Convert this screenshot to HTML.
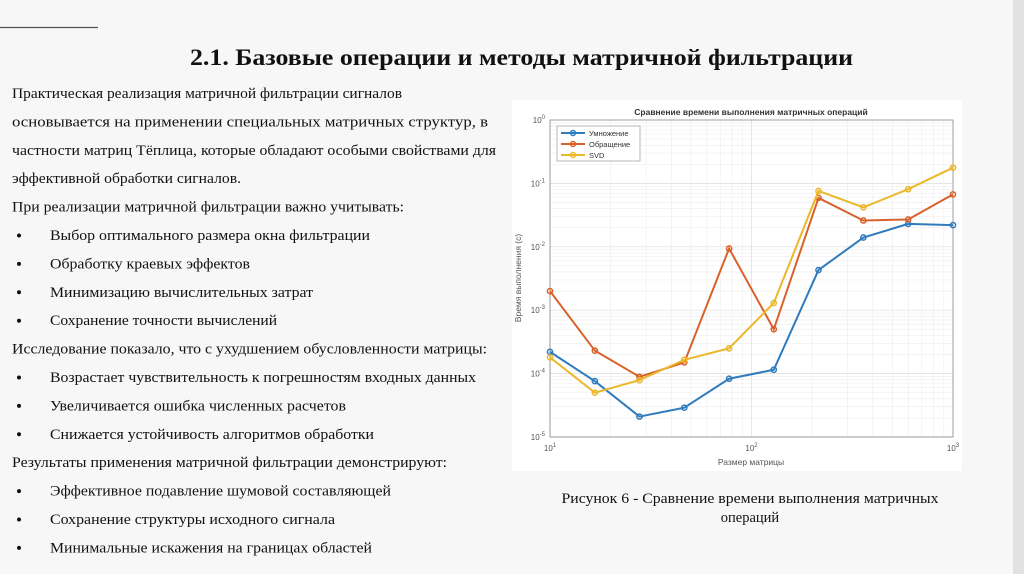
<!DOCTYPE html>
<html><head><meta charset="utf-8"><style>
html,body{margin:0;padding:0;background:#f7f7f7;}
svg{display:block}
.b{font-family:"Liberation Serif","DejaVu Serif",serif;font-size:14.5px;fill:#111}
.c{font-family:"Liberation Sans","DejaVu Sans",sans-serif}
</style></head><body>
<svg id="s" width="1024" height="574" viewBox="0 0 1024 574" xmlns="http://www.w3.org/2000/svg">
<rect x="0" y="0" width="1024" height="574" fill="#f7f7f7"/>
<rect x="1013" y="0" width="11" height="574" fill="#e2e2e2"/>
<line x1="0" y1="27.5" x2="98" y2="27.5" stroke="#555" stroke-width="1.2"/>
<text x="190" y="65" textLength="663" lengthAdjust="spacingAndGlyphs" style="font-family:'Liberation Serif',serif;font-weight:bold;font-size:23px" fill="#111">2.1. Базовые операции и методы матричной фильтрации</text>
<g id="body"></g>
<rect x="512" y="100" width="450" height="371" fill="#fff"/>
<g id="chart"></g>
<text x="750" y="503" text-anchor="middle" class="b" textLength="377" lengthAdjust="spacingAndGlyphs">Рисунок 6 - Сравнение времени выполнения матричных</text>
<text x="750" y="522" text-anchor="middle" class="b">операций</text>
</svg>
<script>
const NS="http://www.w3.org/2000/svg";
function mk(tag,attrs,parent,txt){const e=document.createElementNS(NS,tag);for(const k in attrs)e.setAttribute(k,attrs[k]);if(txt!=null)e.textContent=txt;parent.appendChild(e);return e;}
const lines=[
["Практическая реализация матричной фильтрации сигналов",0,402],
["основывается на применении специальных матричных структур, в",0,488],
["частности матриц Тёплица, которые обладают особыми свойствами для",0,496],
["эффективной обработки сигналов.",0,241],
["При реализации матричной фильтрации важно учитывать:",0,404],
["Выбор оптимального размера окна фильтрации",1,370],
["Обработку краевых эффектов",1,250],
["Минимизацию вычислительных затрат",1,313],
["Сохранение точности вычислений",1,277],
["Исследование показало, что с ухудшением обусловленности матрицы:",0,487],
["Возрастает чувствительность к погрешностям входных данных",1,476],
["Увеличивается ошибка численных расчетов",1,346],
["Снижается устойчивость алгоритмов обработки",1,374],
["Результаты применения матричной фильтрации демонстрируют:",0,447],
["Эффективное подавление шумовой составляющей",1,391],
["Сохранение структуры исходного сигнала",1,335],
["Минимальные искажения на границах областей",1,372]];
const body=document.getElementById('body');
lines.forEach((l,i)=>{
 const y=98+i*28.4, x=l[1]?50:12;
 if(l[1]){const d=mk('circle',{cx:19,cy:y-4.5,r:2,fill:'#111'},body);
 
 }
 const t=mk('text',{x:x,y:y,class:'b',textLength:l[2]-x,lengthAdjust:'spacingAndGlyphs'},body,l[0]);
 
 
});
</script>
<script>
// chart data
const sizes=[10,16.7,27.8,46.4,77.4,129,215,359,599,1000];
const mult=[2.2e-4,7.6e-5,2.1e-5,2.9e-5,8.3e-5,1.15e-4,4.3e-3,1.4e-2,2.3e-2,2.2e-2];
const inv=[2.0e-3,2.3e-4,8.9e-5,1.5e-4,9.4e-3,5.0e-4,5.9e-2,2.6e-2,2.7e-2,6.7e-2];
const svd=[1.8e-4,5.0e-5,7.9e-5,1.65e-4,2.5e-4,1.3e-3,7.6e-2,4.2e-2,8.1e-2,0.177];
const seriesNames=["Умножение","Обращение","SVD"];
const yTickExp=[0,-1,-2,-3,-4,-5];
const xTickExp=[1,2,3];
const X0=550,X1=953,Y0=120,Y1=437;
function xs(v){return X0+(Math.log10(v)-1)/2*(X1-X0);}
function ys(v){return Y0+(0-Math.log10(v))/5*(Y1-Y0);}
const g=document.getElementById('chart');
const grid=mk('g',{},g);


for(let e=-5;e<0;e++)for(let m=1;m<10;m++){const y=ys(m*Math.pow(10,e));mk('line',{x1:X0,x2:X1,y1:y,y2:y,stroke:m==1?'#dcdcdc':'#efefef','stroke-width':0.7},grid);}
for(let e=1;e<3;e++)for(let m=1;m<10;m++){const x=xs(m*Math.pow(10,e));mk('line',{x1:x,x2:x,y1:Y0,y2:Y1,stroke:m==1?'#dcdcdc':'#efefef','stroke-width':0.7},grid);}
const ax=mk('rect',{x:X0,y:Y0,width:X1-X0,height:Y1-Y0,fill:'none',stroke:'#888','stroke-width':0.8},g);


yTickExp.forEach(e=>{const t=mk('text',{x:X0-5,y:ys(Math.pow(10,e))+3,'text-anchor':'end',class:'c','font-size':8,fill:'#555'},g);
t.innerHTML='10<tspan dy="-4" font-size="6">'+e+'</tspan>';

});
xTickExp.forEach(e=>{const t=mk('text',{x:xs(Math.pow(10,e)),y:Y1+14,'text-anchor':'middle',class:'c','font-size':8,fill:'#555'},g);
t.innerHTML='10<tspan dy="-4" font-size="6">'+e+'</tspan>';

});
const tt=mk('text',{x:751,y:115,'text-anchor':'middle',class:'c','font-size':8.5,'font-weight':'bold',fill:'#333'},g,'Сравнение времени выполнения матричных операций');


const xl=mk('text',{x:751,y:465,'text-anchor':'middle',class:'c','font-size':8.5,fill:'#555'},g,'Размер матрицы');


const yl=mk('text',{x:0,y:0,'text-anchor':'middle',class:'c','font-size':8.5,fill:'#555',transform:'translate(521,278) rotate(-90)'},g,'Время выполнения (с)');


const colors=['#2f7bbd','#d9622b','#eab82a'];
[mult,inv,svd].forEach((d,i)=>{
 const p=mk('polyline',{points:d.map((v,j)=>xs(sizes[j])+','+ys(v)).join(' '),fill:'none',stroke:colors[i],'stroke-width':2},g);
 
 
 d.forEach((v,j)=>{const c=mk('circle',{cx:xs(sizes[j]),cy:ys(v),r:2.6,fill:'none',stroke:colors[i],'stroke-width':1.5},g);
 
 });
});
const lg=mk('g',{},g);


mk('rect',{x:557,y:126,width:83,height:35,fill:'#fff',stroke:'#999','stroke-width':0.7},lg);
seriesNames.forEach((n,i)=>{const y=133+i*11;
 mk('line',{x1:561,x2:585,y1:y,y2:y,stroke:colors[i],'stroke-width':2},lg);
 mk('circle',{cx:573,cy:y,r:2.5,fill:'none',stroke:colors[i],'stroke-width':1.5},lg);
 const t=mk('text',{x:589,y:y+3,class:'c','font-size':7.5,fill:'#333'},lg,n);
 
 });
</script>
</body></html>
